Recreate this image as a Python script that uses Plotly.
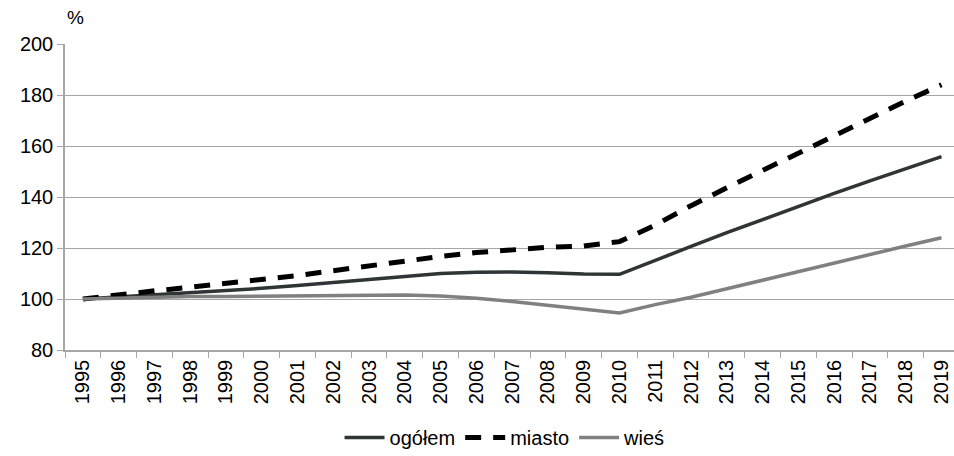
import plotly.graph_objects as go

years = [str(y) for y in range(1995, 2020)]
ogolem = [100, 100.8, 101.6, 102.5, 103.3, 104.2, 105.3, 106.5, 107.8, 109.0,
          110.0, 110.5, 110.6, 110.3, 109.8, 109.7, 115.3, 120.6, 126.0, 131.2,
          136.2, 141.4, 146.3, 151.1, 155.8]
miasto = [100, 101.8, 103.2, 104.6, 106.0, 107.6, 109.2, 111.1, 113.0, 115.0,
          116.7, 118.2, 119.4, 120.3, 120.8, 122.5, 129.0, 136.6, 143.6, 150.4,
          157.5, 164.5, 171.2, 177.6, 184.0]
wies = [100, 100.4, 100.8, 101.0, 101.0, 101.1, 101.2, 101.4, 101.6, 101.6,
        101.2, 100.3, 99.0, 97.5, 96.0, 94.5, 97.8, 100.7, 104.0, 107.4,
        110.7, 114.1, 117.5, 120.8, 124.0]

font = "Liberation Sans, Arial, sans-serif"

fig = go.Figure()
fig.add_trace(go.Scatter(x=years, y=ogolem, mode="lines", name="ogółem",
                         line=dict(color="#2f3436", width=3.5)))
fig.add_trace(go.Scatter(x=years, y=miasto, mode="lines", name="miasto",
                         line=dict(color="#000000", width=5, dash="16px,12px")))
fig.add_trace(go.Scatter(x=years, y=wies, mode="lines", name="wieś",
                         line=dict(color="#808080", width=3.5)))

fig.update_layout(
    width=954, height=456,
    margin=dict(l=65, r=0, t=44, b=106, autoexpand=False),
    plot_bgcolor="white", paper_bgcolor="white",
    font=dict(family=font, size=20, color="#000000"),
    showlegend=True,
    legend=dict(orientation="h", x=0.495, xanchor="center", y=-0.222, yanchor="top",
                font=dict(size=20), itemwidth=40, traceorder="normal"),
    xaxis=dict(type="category", range=[-0.5, 24.35], showgrid=False,
               showline=True, linecolor="#a6a6a6", linewidth=1.5,
               ticks="outside", tickson="boundaries", ticklen=6, tickcolor="#a6a6a6",
               tickangle=-90, tickfont=dict(size=20), automargin=False),
    yaxis=dict(range=[80, 200], dtick=20, showgrid=True, gridcolor="#a6a6a6",
               gridwidth=1.3, showline=True, linecolor="#a6a6a6", linewidth=1.5,
               ticks="outside", ticklen=6, tickcolor="#a6a6a6", zeroline=False,
               tickfont=dict(size=20), automargin=False),
    annotations=[dict(text="%", xref="paper", yref="paper", x=0.0, y=1.0,
                      xanchor="left", yanchor="bottom", yshift=14, showarrow=False,
                      font=dict(size=19))],
)

fig.write_html("out.html", config={"displayModeBar": False},
               post_script="document.body.style.margin='0';document.body.style.overflow='hidden';")
